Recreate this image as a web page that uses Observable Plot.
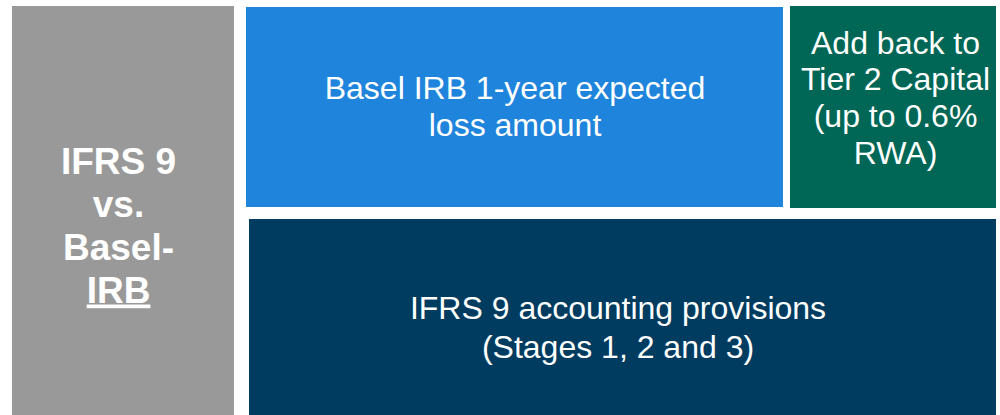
<!DOCTYPE html>
<html>
<head>
<meta charset="utf-8">
<script src="https://cdn.jsdelivr.net/npm/d3@7"></script>
<script src="https://cdn.jsdelivr.net/npm/@observablehq/plot@0.6"></script>
<style>
  html, body { margin: 0; padding: 0; background: #ffffff; }
  svg text { font-family: "Liberation Sans", Arial, sans-serif; }
</style>
</head>
<body>
<div id="chart"></div>
<script>
// Diagram boxes (extents in the diagram's own 1000 x 415 coordinate space)
const boxes = ["side", "irb", "addback", "ifrs"];
const boxX1 = [12, 246, 790, 249];
const boxX2 = [234, 783, 996, 996];
const boxY1 = [6, 7, 6, 219];
const boxY2 = [415, 207, 208, 415];
const boxLabels = [
  "IFRS 9\nvs.\nBasel-\nIRB",
  "Basel IRB 1-year expected\nloss amount",
  "Add back to\nTier 2 Capital\n(up to 0.6%\nRWA)",
  "IFRS 9 accounting provisions\n(Stages 1, 2 and 3)"
];
const boxColors = ["#999999", "#1f84dc", "#006655", "#003c60"];

const data = boxes.map((id, i) => ({
  id, x1: boxX1[i], x2: boxX2[i], y1: boxY1[i], y2: boxY2[i], label: boxLabels[i]
}));
const byId = id => data.filter(d => d.id === id);
const cx = d => (d.x1 + d.x2) / 2;
const cy = d => (d.y1 + d.y2) / 2;

const font = "Liberation Sans, Arial, sans-serif";

const chart = Plot.plot({
  width: 1000,
  height: 415,
  margin: 0,
  x: {type: "linear", domain: [0, 1000], range: [0, 1000], axis: null},
  y: {type: "linear", domain: [0, 415], range: [0, 415], axis: null},
  color: {domain: boxes, range: boxColors},
  style: {background: "#ffffff", fontFamily: font},
  marks: [
    Plot.rect(data, {x1: "x1", x2: "x2", y1: "y1", y2: "y2", fill: "id", inset: 0}),
    Plot.text(byId("side"), {x: cx, y: cy, text: "label", fill: "#ffffff", fontSize: 37, fontWeight: "bold",
      lineHeight: 1.157, fontFamily: font, dx: -5, dy: 13.6}),
    Plot.text(byId("irb"), {x: cx, y: cy, text: "label", fill: "#ffffff", fontSize: 32,
      lineHeight: 1.15, fontFamily: font, dx: 0, dy: -1.6}),
    Plot.text(byId("addback"), {x: cx, y: cy, text: "label", fill: "#ffffff", fontSize: 32,
      lineHeight: 1.15, fontFamily: font, dx: 2, dy: -10.5}),
    Plot.text(byId("ifrs"), {x: cx, y: cy, text: "label", fill: "#ffffff", fontSize: 32,
      lineHeight: 1.234, fontFamily: font, dx: -5, dy: 8.5})
  ]
});

// underline the "IRB" line of the side box
d3.select(chart).selectAll("tspan").filter(function() { return this.textContent === "IRB"; })
  .style("text-decoration", "underline")
  .style("text-underline-offset", "9px")
  .style("text-decoration-thickness", "2px");

document.getElementById("chart").appendChild(chart);
</script>
</body>
</html>
